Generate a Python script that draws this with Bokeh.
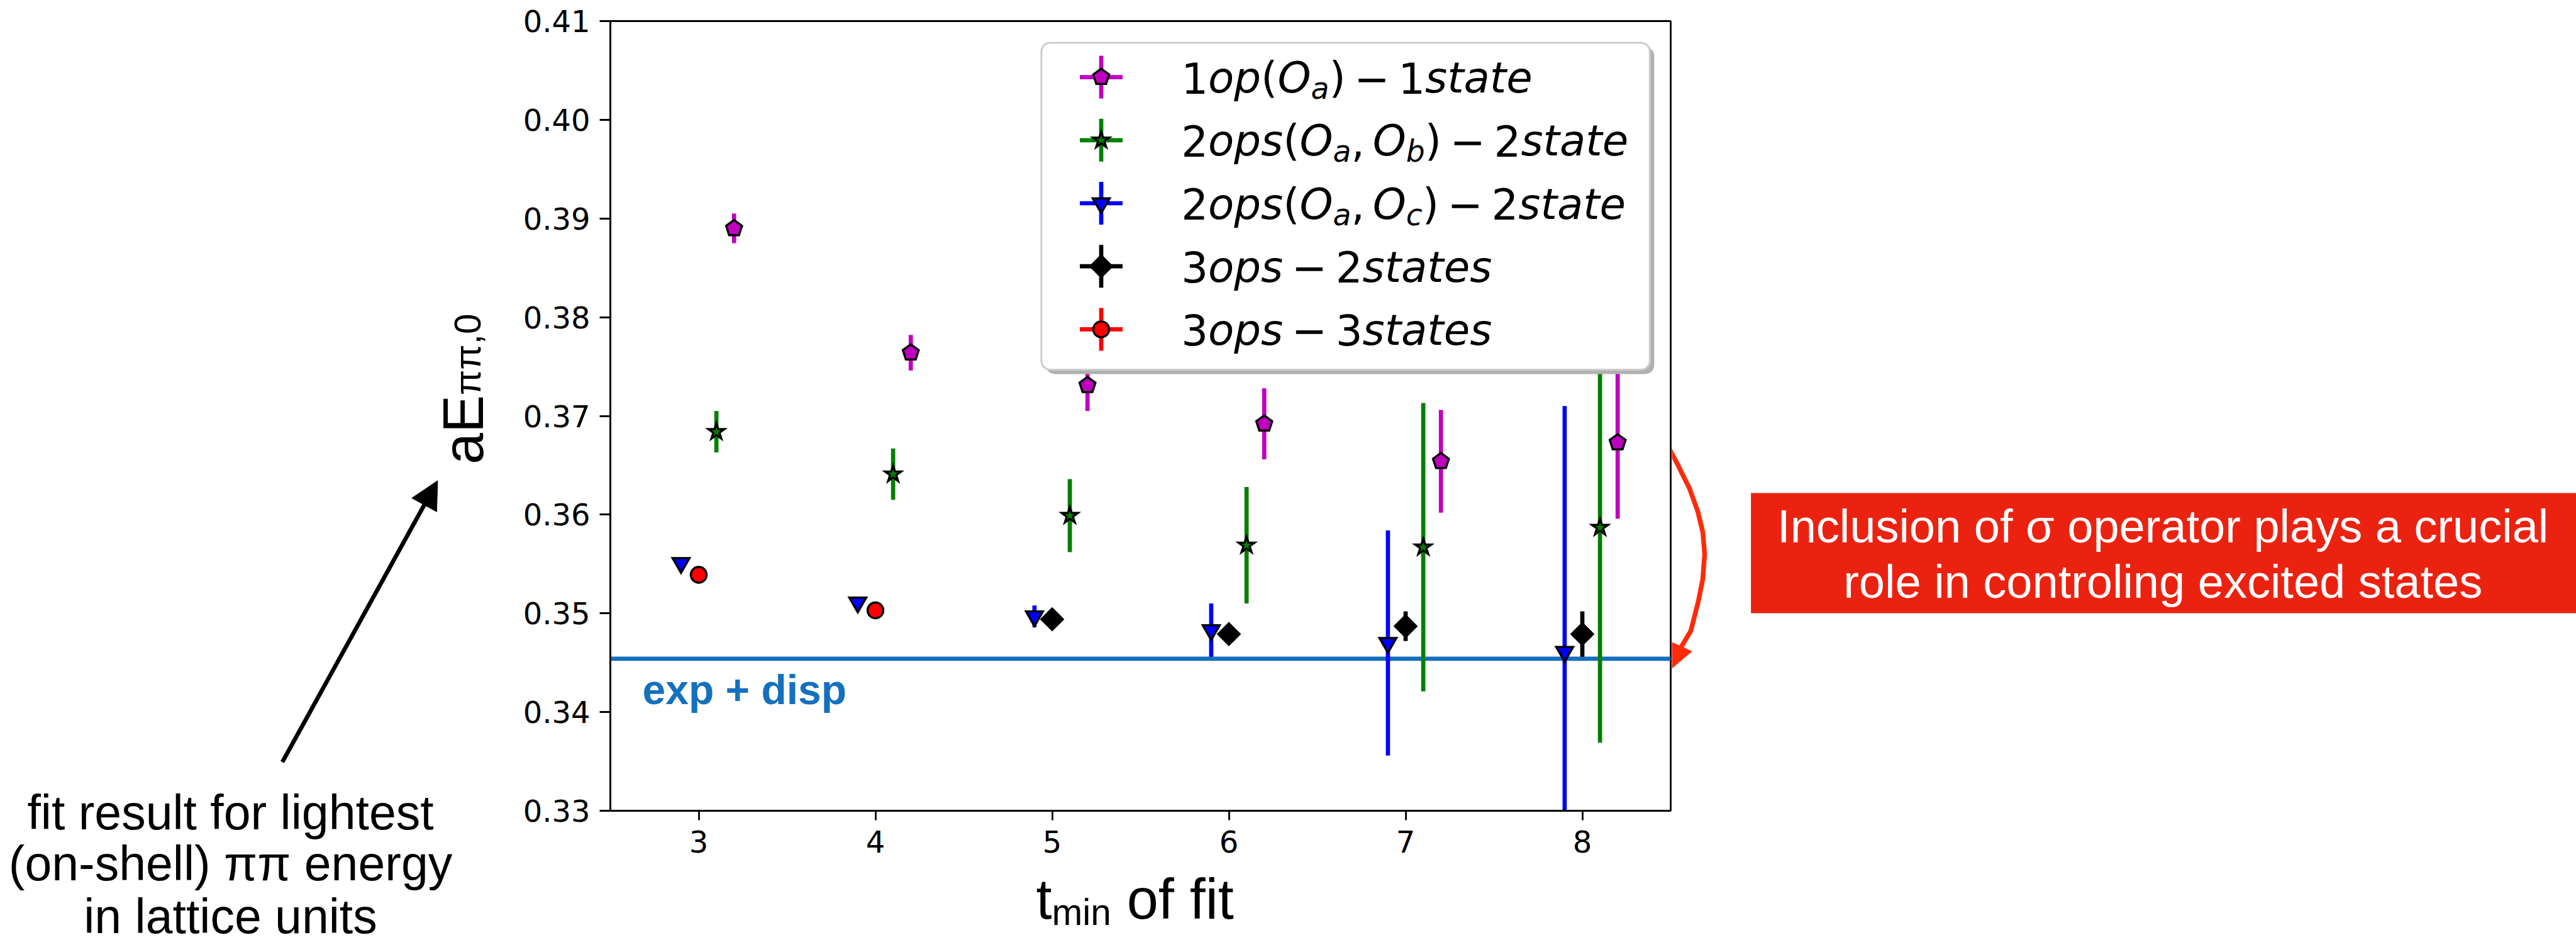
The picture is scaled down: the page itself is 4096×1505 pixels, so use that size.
import numpy as np
from bokeh.plotting import figure
from bokeh.models import Range1d, FixedTicker, PrintfTickFormatter, Span, BoxAnnotation
from bokeh.layouts import row, column
from bokeh.core.properties import value
from bokeh.embed import file_html
from bokeh.resources import INLINE

# ---------------- data ----------------
tmin = [3, 4, 5, 6, 7, 8]
E_1op = [0.3890, 0.3764, 0.3731, 0.3692, 0.3654, 0.3673]
dE_1op = [0.0015, 0.0018, 0.0026, 0.0036, 0.0052, 0.0077]
E_2ops_ab = [0.3684, 0.3641, 0.3599, 0.3569, 0.3567, 0.3587]
dE_2ops_ab = [0.0021, 0.0026, 0.0037, 0.0059, 0.0146, 0.0218]
E_2ops_ac = [0.3551, 0.3511, 0.3497, 0.3483, 0.3470, 0.3461]
dE_2ops_ac = [0.0003, 0.0003, 0.0011, 0.0027, 0.0114, 0.0249]
tmin_3ops_2st = [5, 6, 7, 8]
E_3ops_2st = [0.3494, 0.3479, 0.3487, 0.3479]
dE_3ops_2st = [0.0004, 0.0004, 0.0015, 0.0023]
tmin_3ops_3st = [3, 4]
E_3ops_3st = [0.3539, 0.3503]
dE_3ops_3st = [0.0003, 0.0003]
E_exp_disp = 0.3454

x_ticks = [3, 4, 5, 6, 7, 8]
y_ticks = [0.33, 0.34, 0.35, 0.36, 0.37, 0.38, 0.39, 0.40, 0.41]
x_lim = (2.5, 8.5)
y_lim = (0.33, 0.41)

# legend labels as (text, kind) tokens: rm = upright, it = italic, sub = subscript
legend_labels = [
    [("1", "rm"), ("op", "it"), ("(", "rm"), ("O", "it"), ("a", "sub"), (")", "rm"),
     ("\u2212", "op"), ("1", "rm"), ("state", "it")],
    [("2", "rm"), ("ops", "it"), ("(", "rm"), ("O", "it"), ("a", "sub"), (",", "comma"),
     ("O", "it"), ("b", "sub"), (")", "rm"), ("\u2212", "op"), ("2", "rm"), ("state", "it")],
    [("2", "rm"), ("ops", "it"), ("(", "rm"), ("O", "it"), ("a", "sub"), (",", "comma"),
     ("O", "it"), ("c", "sub"), (")", "rm"), ("\u2212", "op"), ("2", "rm"), ("state", "it")],
    [("3", "rm"), ("ops", "it"), ("\u2212", "op"), ("2", "rm"), ("states", "it")],
    [("3", "rm"), ("ops", "it"), ("\u2212", "op"), ("3", "rm"), ("states", "it")],
]

left_note = ["fit result for lightest", "(on-shell) \u03c0\u03c0 energy", "in lattice units"]
box_note = ["Inclusion of \u03c3 operator plays a crucial", "role in controling excited states"]
ylabel_main, ylabel_sub = "aE", "\u03c0\u03c0,0"
xlabel_main, xlabel_sub, xlabel_rest = "t", "min", "of fit"
hline_label = "exp + disp"

# ---------------- layout (page pixels) ----------------
PAGE_W, PAGE_H = 4096, 1505
LEFT_W, MAIN_W = 800, 1858
RIGHT_W = PAGE_W - LEFT_W - MAIN_W
MAIN_H = 1374
XLAB_H = PAGE_H - MAIN_H
FRAME_L, FRAME_R, FRAME_T, FRAME_B = 970, 2656, 33, 1288

SX = (FRAME_R - FRAME_L) / (x_lim[1] - x_lim[0])
SY = (FRAME_B - FRAME_T) / (y_lim[1] - y_lim[0])
KMID = 0.346   # text y given = visual middle; baseline sits this many em lower


def dx(px):
    return x_lim[0] + (px - FRAME_L) / SX


def dy(py):
    return y_lim[1] - (py - FRAME_T) / SY


LW_ERR = 6.7
LW_EDGE = 3.4
HELV = "Liberation Sans"
DJV = "DejaVu Sans"


def blank(w, h, xr, yr, **kw):
    args = dict(min_border=0)
    args.update(kw)
    p = figure(width=w, height=h, x_range=Range1d(*xr), y_range=Range1d(*yr),
               output_backend="svg", toolbar_location=None, title=None,
               x_axis_location=None, y_axis_location=None, **args)
    p.outline_line_color = None
    p.background_fill_color = "white"
    p.border_fill_color = "white"
    p.xgrid.visible = False
    p.ygrid.visible = False
    return p


# ---------------- main plot ----------------
pm = figure(width=MAIN_W, height=MAIN_H, x_range=Range1d(*x_lim), y_range=Range1d(*y_lim),
            output_backend="svg", toolbar_location=None, title=None,
            min_border_left=FRAME_L - LEFT_W, min_border_right=LEFT_W + MAIN_W - FRAME_R,
            min_border_top=FRAME_T, min_border_bottom=MAIN_H - FRAME_B)
pm.background_fill_color = "white"
pm.border_fill_color = "white"
pm.xgrid.visible = False
pm.ygrid.visible = False
pm.outline_line_color = "black"
pm.outline_line_width = 2.8
pm.outline_line_alpha = 1.0
pm.xaxis.ticker = FixedTicker(ticks=x_ticks)
pm.yaxis.ticker = FixedTicker(ticks=y_ticks)
pm.yaxis.formatter = PrintfTickFormatter(format="%.2f")
for ax in (pm.xaxis, pm.yaxis):
    ax.major_label_text_font = DJV
    ax.major_label_text_font_size = "48px"
    ax.major_label_text_color = "black"
    ax.major_tick_in = 0
    ax.major_tick_line_width = 2.8
    ax.major_tick_line_color = "black"
    ax.minor_tick_line_color = None
    ax.axis_line_width = 2.8
    ax.axis_line_color = "black"
pm.xaxis.major_tick_out = 15
pm.yaxis.major_tick_out = 17
pm.xaxis.major_label_standoff = 16
pm.yaxis.major_label_standoff = 15

pm.add_layout(Span(location=E_exp_disp, dimension="width", line_color="#1570be",
                   line_width=6.7, level="underlay"))

PENT_R = 13.3


def draw_marker(p, xs, ys, kind, color, level=None):
    xs = np.asarray(xs, dtype=float)
    ys = np.asarray(ys, dtype=float)
    if kind == "pentagon":
        ang = 2 * np.pi * np.arange(5) / 5
        pxs = [list(x + PENT_R * np.sin(ang) / SX) for x in xs]
        pys = [list(y + PENT_R * np.cos(ang) / SY) for y in ys]
        r = p.patches(pxs, pys, fill_color=color, line_color="black",
                      line_width=LW_EDGE, line_join="miter")
    elif kind == "star":
        r = p.scatter(xs, ys, marker="star", size=27, fill_color=color,
                      line_color="black", line_width=LW_EDGE, line_join="miter")
    elif kind == "tri":
        r = p.scatter(xs, ys, marker="inverted_triangle", size=27, fill_color=color,
                      line_color="black", line_width=LW_EDGE, line_join="miter")
    elif kind == "diamond":
        r = p.scatter(xs, ys, marker="square", angle=np.pi / 4, size=24, fill_color=color,
                      line_color="black", line_width=LW_EDGE, line_join="miter")
    else:
        r = p.scatter(xs, ys, marker="circle", size=25, fill_color=color,
                      line_color="black", line_width=LW_EDGE)
    if level:
        r.level = level
    return r


series = [
    (tmin, E_1op, dE_1op, 0.2, "#bf00bf", "pentagon"),
    (tmin, E_2ops_ab, dE_2ops_ab, 0.1, "#008000", "star"),
    (tmin, E_2ops_ac, dE_2ops_ac, -0.1, "#0000ff", "tri"),
    (tmin_3ops_2st, E_3ops_2st, dE_3ops_2st, 0.0, "#000000", "diamond"),
    (tmin_3ops_3st, E_3ops_3st, dE_3ops_3st, 0.0, "#ff0000", "circle"),
]

for xs, ys, es, off, col, kind in series:
    xo = np.asarray(xs, dtype=float) + off
    y = np.asarray(ys)
    e = np.asarray(es)
    pm.segment(x0=xo, y0=y - e, x1=xo, y1=y + e, line_color=col, line_width=LW_ERR)
    draw_marker(pm, xo, y, kind, col)

pm.text(x=[dx(1021)], y=[dy(1118.7 - KMID * 66)], text=[hline_label], text_font=value(HELV),
        text_font_style="bold", text_font_size=value("66px"), text_color="#1570be",
        text_align="left", text_baseline="alphabetic")

# ---------------- legend ----------------
LG_L, LG_R, LG_T, LG_B = 1655.4, 2622.8, 67.4, 586.9
SH = 7
pm.add_layout(BoxAnnotation(left=dx(LG_L + SH), right=dx(LG_R + SH), top=dy(LG_T + SH),
                            bottom=dy(LG_B + SH), fill_color="#b0b0b0", fill_alpha=1.0,
                            line_color=None, border_radius=14))
pm.add_layout(BoxAnnotation(left=dx(LG_L), right=dx(LG_R), top=dy(LG_T), bottom=dy(LG_B),
                            fill_color="white", fill_alpha=1.0, line_color="#cccccc",
                            line_alpha=1.0, line_width=3, border_radius=14))

EMW = {'0': 0.6362, '1': 0.6362, '2': 0.6362, '3': 0.6362, 'o': 0.6118, 'p': 0.6348,
       's': 0.5210, 't': 0.3921, 'a': 0.6128, 'e': 0.6152, '(': 0.3906, ')': 0.3906,
       'O': 0.7871, ',': 0.3179, 'b': 0.6348, 'c': 0.5498, '\u2212': 0.8379}


def tw(s):
    return sum(EMW.get(c, 0.6) for c in s)


LF = 67.4
LFS = 0.7 * LF
row_y = [122.1, 222.3, 322.5, 422.7, 522.9]
MK_X = 1750.5
TXT_X = 1877.7
ARM = 34

for i, (xs, ys, es, off, col, kind) in enumerate(series):
    cy = row_y[i]
    r = pm.segment(x0=[dx(MK_X - ARM), dx(MK_X)], y0=[dy(cy), dy(cy - ARM)],
                   x1=[dx(MK_X + ARM), dx(MK_X)], y1=[dy(cy), dy(cy + ARM)],
                   line_color=col, line_width=LW_ERR)
    r.level = "overlay"
    draw_marker(pm, [dx(MK_X)], [dy(cy)], kind, col, level="overlay")
    base = cy + 24.4
    x = TXT_X
    for s, k in legend_labels[i]:
        size, style, yb, extra_before, extra_after = LF, "normal", base, 0.0, 0.0
        if k == "it":
            style = "italic"
        elif k == "sub":
            size, style, yb = LFS, "italic", base + 10
        elif k == "op":
            extra_before = extra_after = 0.2 * LF
        elif k == "comma":
            extra_after = 0.19 * LF
        x += extra_before
        t = pm.text(x=[dx(x)], y=[dy(yb - KMID * size)], text=[s], text_font=value(DJV),
                    text_font_style=style, text_font_size=value(f"{size:.1f}px"),
                    text_color="black", text_align="left", text_baseline="alphabetic")
        t.level = "overlay"
        x += tw(s) * size + extra_after

# ---------------- x label strip (frame aligned with the main frame) ----------------
px_ = blank(MAIN_W, XLAB_H, (FRAME_L, FRAME_R), (PAGE_H, MAIN_H),
            min_border_left=FRAME_L - LEFT_W, min_border_right=LEFT_W + MAIN_W - FRAME_R,
            min_border_top=0, min_border_bottom=0)
XF, XFS = 90, 58.5
XBASE = 1460
x0 = 1647
px_.text(x=[x0], y=[XBASE - KMID * XF], text=[xlabel_main], text_font=value(HELV),
         text_font_size=value(f"{XF}px"), text_align="left", text_baseline="alphabetic")
x1 = x0 + 0.278 * XF
px_.text(x=[x1], y=[XBASE + 9 - KMID * XFS], text=[xlabel_sub], text_font=value(HELV),
         text_font_size=value(f"{XFS}px"), text_align="left", text_baseline="alphabetic")
x2 = x1 + (0.833 + 0.222 + 0.556) * XFS + 0.278 * XF
px_.text(x=[x2], y=[XBASE - KMID * XF], text=[xlabel_rest], text_font=value(HELV),
         text_font_size=value(f"{XF}px"), text_align="left", text_baseline="alphabetic")

# ---------------- left panel ----------------
pl = blank(LEFT_W, PAGE_H, (0, LEFT_W), (PAGE_H, 0))
pl.text(x=[366] * 3, y=[1290, 1371, 1455], text=left_note, text_font=value(HELV),
        text_font_size=value("77px"), text_color="black", text_align="center",
        text_baseline="alphabetic")
# black arrow
tail = np.array([448.4, 1210.6])
tip = np.array([695.4, 763.4])
d = (tip - tail) / np.linalg.norm(tip - tail)
perp = np.array([-d[1], d[0]])
hb = tip - d * 44
c1 = hb + perp * 22.5
c2 = hb - perp * 22.5
pl.segment(x0=[tail[0]], y0=[tail[1]], x1=[hb[0] + d[0] * 4], y1=[hb[1] + d[1] * 4],
           line_color="black", line_width=6.7)
pl.patch([tip[0], c1[0], c2[0]], [tip[1], c1[1], c2[1]], fill_color="black", line_color="black",
         line_width=1)
# y label (rotated)
YF, YFS = 90, 58.5
pl.text(x=[736], y=[737.6], text=[ylabel_main], angle=np.pi / 2, text_font=value(HELV),
        text_font_size=value(f"{YF}px"), text_align="left", text_baseline="alphabetic")
pl.text(x=[742.6], y=[737.6 - (0.556 + 0.667) * YF], text=[ylabel_sub], angle=np.pi / 2,
        text_font=value(HELV), text_font_size=value(f"{YFS}px"), text_align="left",
        text_baseline="alphabetic")

# ---------------- right panel ----------------
pr = blank(RIGHT_W, PAGE_H, (LEFT_W + MAIN_W, PAGE_W), (PAGE_H, 0))
pr.quad(left=[2783.6], right=[PAGE_W], top=[783], bottom=[974], fill_color="#ec2211",
        line_color=None)
pr.text(x=[3438.7, 3438.7], y=[862 - KMID * 74, 949.5 - KMID * 74], text=box_note,
        text_font=value(HELV), text_font_size=value("74px"), text_color="white",
        text_align="center", text_baseline="alphabetic")
curve_x = [2643.4, 2667, 2686, 2699, 2707, 2710, 2707, 2700, 2688, 2669]
curve_y = [692.7, 737.6, 776, 812, 845, 880, 920, 955, 1002, 1034]
pr.line(curve_x, curve_y, line_color="#ff2a0a", line_width=7.5, line_join="round")
htip = np.array([2655.7, 1063.3])
hd = htip - np.array([2669, 1034])
hd = hd / np.linalg.norm(hd)
hp = np.array([-hd[1], hd[0]])
hbase = htip - hd * 40
pr.patch([htip[0], hbase[0] + hp[0] * 19, hbase[0] - hp[0] * 19],
         [htip[1], hbase[1] + hp[1] * 19, hbase[1] - hp[1] * 19],
         fill_color="#ff2a0a", line_color="#ff2a0a", line_width=1)

layout = row(pl, column(pm, px_), pr)
open("out.html", "w", encoding="utf-8").write(file_html(layout, INLINE))
